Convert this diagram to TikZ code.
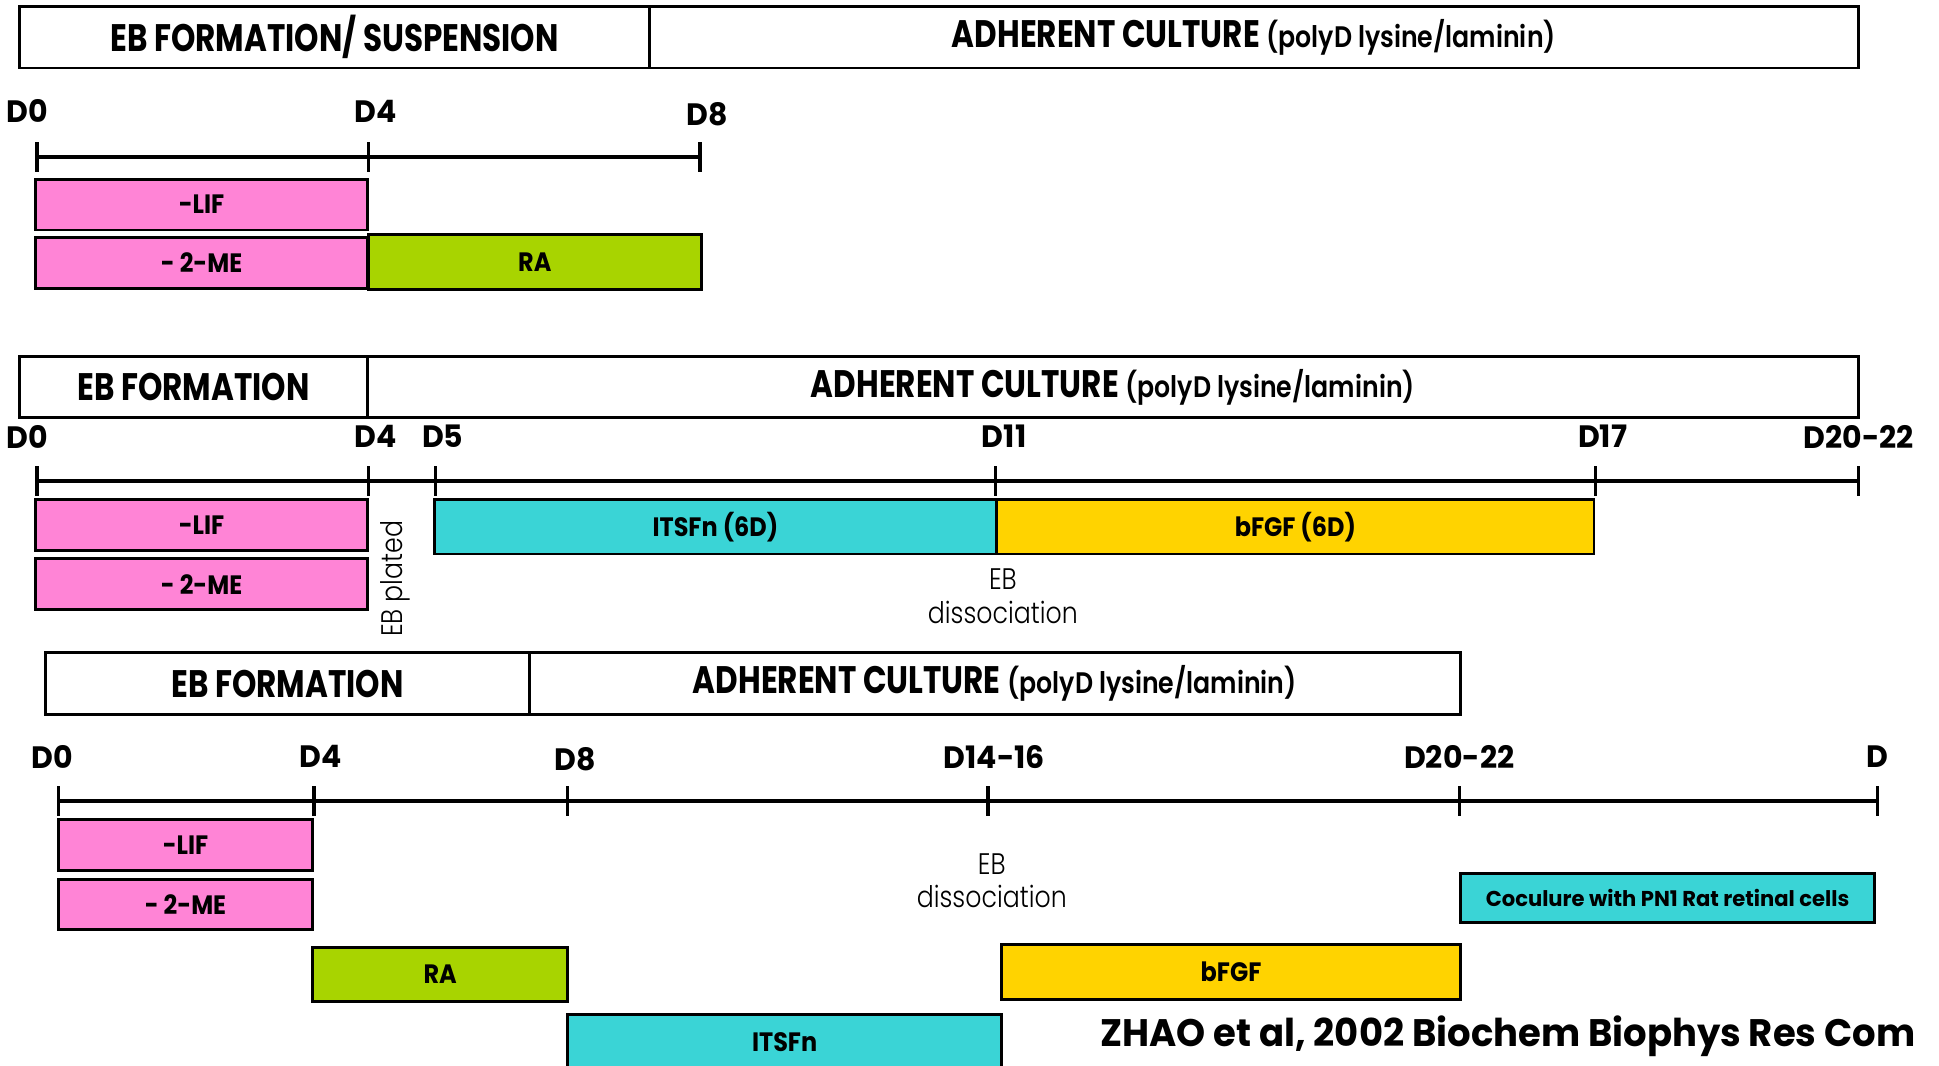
\documentclass[tikz,border=0pt]{standalone}
\usepackage{fontspec}
\setmainfont{Poppins}
\newfontfamily\hdrfont[FakeStretch=0.81]{Poppins}
\newfontfamily\dayfont[FakeStretch=0.97]{Poppins}
\newfontfamily\barfont[FakeStretch=0.90]{Poppins}
\newfontfamily\cofont[FakeStretch=0.98]{Poppins}
\newfontfamily\citefont[FakeStretch=0.965]{Poppins}
\newfontfamily\lightfont[FakeStretch=0.85]{Poppins Light}
\definecolor{lifpink}{HTML}{FF84D6}
\definecolor{ragreen}{HTML}{A8D400}
\definecolor{itscyan}{HTML}{3AD4D6}
\definecolor{fgfyellow}{HTML}{FFD300}

\newcommand{\adherent}{{\bfseries ADHERENT CULTURE} {\lightfont\fontsize{24}{24}\selectfont(polyD lysine/laminin)}}

\begin{document}
\begin{tikzpicture}[x=1pt,y=-1pt,
  frame/.style={draw=black, line width=2.4pt, inner sep=0pt, outer sep=0pt, anchor=north west},
  header/.style={frame, minimum height=50pt, font=\hdrfont\bfseries\fontsize{31}{31}\selectfont},
  bar/.style={frame, font=\barfont\bfseries\fontsize{21.5}{21.5}\selectfont},
  daylabel/.style={font=\dayfont\bfseries\fontsize{25}{25}\selectfont, inner sep=0pt},
  axisline/.style={line width=3.2pt},
  tickline/.style={line width=2.6pt},
  note/.style={font=\lightfont\fontsize{24}{27}\selectfont, align=center, inner sep=0pt},
]
\useasboundingbox (0,0) rectangle (1568,862);

% ---------- Protocol 1 ----------
\node[header, minimum width=509pt] (h1a) at (16,5) {EB FORMATION/ SUSPENSION};
\node[header, minimum width=978pt] (h1b) at (h1a.north east) {\adherent};

\coordinate (p1d0) at (30,127);
\coordinate (p1d4) at (298,127);
\coordinate (p1d8) at (566,127);
\draw[axisline] (p1d0) -- (p1d8);
\foreach \t in {p1d0,p1d4,p1d8}
  \draw[tickline] ([yshift=12pt]\t) -- ([yshift=-12pt]\t);
\node[daylabel] (l1d0) at (22,90) {D0};
\node[daylabel] (l1d4) at (304,90) {D4};
\node[daylabel] (l1d8) at (572,92) {D8};

\node[bar, fill=lifpink, minimum width=268pt, minimum height=41pt] (b1lif) at (29,145) {-LIF};
\node[bar, fill=lifpink, minimum width=268pt, minimum height=41pt] (b1me) at (29,192) {- 2-ME};
\node[bar, fill=ragreen, minimum width=269pt, minimum height=44pt] (b1ra) at (298,190) {RA};

% ---------- Protocol 2 ----------
\node[header, minimum width=281pt] (h2a) at (16,288) {EB FORMATION};
\node[header, minimum width=1206pt] (h2b) at (h2a.north east) {\adherent};

\coordinate (p2d0) at (30,389);
\coordinate (p2d4) at (298,389);
\coordinate (p2d5) at (352,389);
\coordinate (p2d11) at (805,389);
\coordinate (p2d17) at (1290,389);
\coordinate (p2d20) at (1503,389);
\draw[axisline] (p2d0) -- (p2d20);
\foreach \t in {p2d0,p2d4,p2d5,p2d11,p2d17,p2d20}
  \draw[tickline] ([yshift=12pt]\t) -- ([yshift=-12pt]\t);
\node[daylabel] (l2d0) at (22,353) {D0};
\node[daylabel] (l2d4) at (304,353) {D4};
\node[daylabel] (l2d5) at (358,353) {D5};
\node[daylabel] (l2d11) at (812,353) {D11};
\node[daylabel] (l2d17) at (1296,353) {D17};
\node[daylabel] (l2d20) at (1503,353) {D20-22};

\node[bar, fill=lifpink, minimum width=268pt, minimum height=41pt] (b2lif) at (29,404) {-LIF};
\node[bar, fill=lifpink, minimum width=268pt, minimum height=41pt] (b2me) at (29,452) {- 2-ME};
\node[bar, fill=itscyan, minimum width=455pt, minimum height=44pt] (b2its) at (351,404) {ITSFn (6D)};
\node[bar, fill=fgfyellow, minimum width=483pt, minimum height=44pt] (b2fgf) at (806,404) {bFGF (6D)};

\node[note, rotate=90] (n2plated) at (320,468) {EB plated};
\node[note] (n2diss) at (811,482) {EB\\dissociation};

% ---------- Protocol 3 ----------
\node[header, minimum width=391pt] (h3a) at (37,528) {EB FORMATION};
\node[header, minimum width=753pt] (h3b) at (h3a.north east) {\adherent};

\coordinate (p3d0) at (47,648);
\coordinate (p3d4) at (254,648);
\coordinate (p3d8) at (459,648);
\coordinate (p3d14) at (799,648);
\coordinate (p3d20) at (1180,648);
\coordinate (p3dn) at (1518,648);
\draw[axisline] (p3d0) -- (p3dn);
\foreach \t in {p3d0,p3d4,p3d8,p3d14,p3d20,p3dn}
  \draw[tickline] ([yshift=12pt]\t) -- ([yshift=-12pt]\t);
\node[daylabel] (l3d0) at (42,612) {D0};
\node[daylabel] (l3d4) at (259,612) {D4};
\node[daylabel] (l3d8) at (465,614) {D8};
\node[daylabel] (l3d14) at (804,612) {D14-16};
\node[daylabel] (l3d20) at (1180,612) {D20-22};
\node[daylabel] (l3dn) at (1518,612) {D};

\node[bar, fill=lifpink, minimum width=206pt, minimum height=41pt] (b3lif) at (47,663) {-LIF};
\node[bar, fill=lifpink, minimum width=206pt, minimum height=41pt] (b3me) at (47,711) {- 2-ME};
\node[bar, fill=ragreen, minimum width=206pt, minimum height=44pt] (b3ra) at (253,766) {RA};
\node[bar, fill=itscyan, minimum width=351pt, minimum height=46pt] (b3its) at (459,820) {ITSFn};
\node[bar, fill=fgfyellow, minimum width=371pt, minimum height=44pt] (b3fgf) at (810,764) {bFGF};
\node[bar, fill=itscyan, minimum width=335pt, minimum height=40pt,
      font=\cofont\bfseries\fontsize{17.4}{17.4}\selectfont] (b3co) at (1181,706) {Coculure with PN1 Rat retinal cells};

\node[note] (n3diss) at (802,712) {EB\\dissociation};

\node[anchor=east, inner sep=0pt, font=\citefont\bfseries\fontsize{31}{31}\selectfont] (cite) at (1549,838) {ZHAO et al, 2002 Biochem Biophys Res Com};
\end{tikzpicture}
\end{document}
